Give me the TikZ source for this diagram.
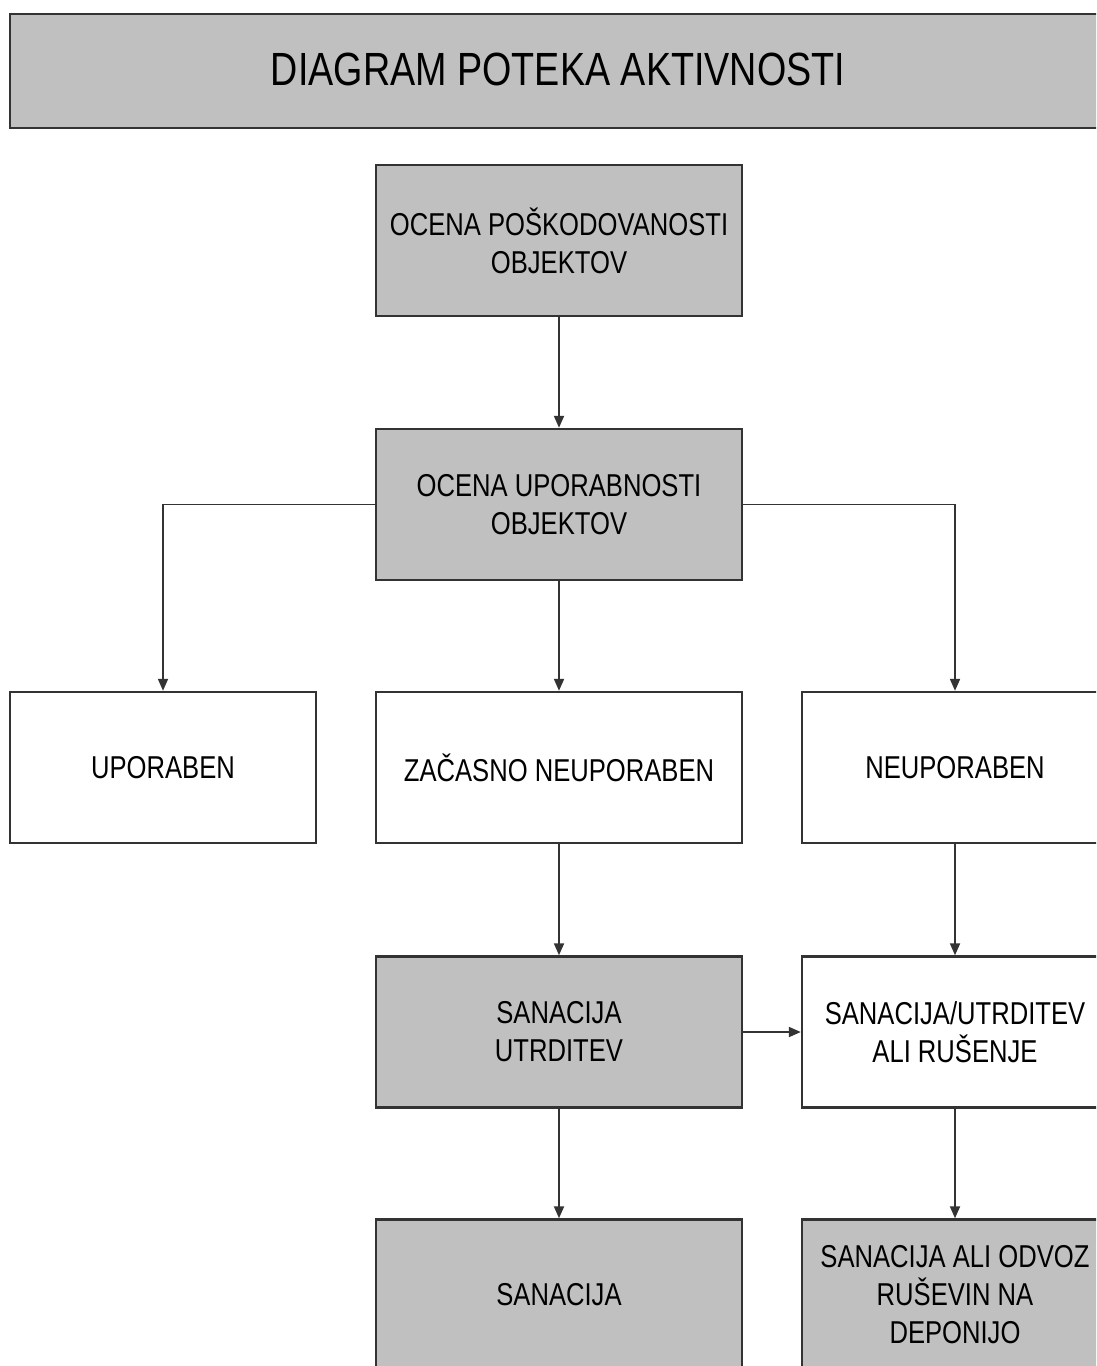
\documentclass[tikz,border=0pt]{standalone}
\usepackage{fontspec}
\setmainfont{Liberation Sans}[FakeStretch=0.81]
\usepackage{xcolor}
\usepackage{tikz}
\usetikzlibrary{arrows.meta}
\definecolor{boxgray}{HTML}{C0C0C0}
\definecolor{linegray}{HTML}{333333}
\tikzset{box/.style={draw=linegray, line width=1.4pt, align=center, minimum height=3.02cm,
                     font=\fontsize{18}{21.6}\selectfont, inner sep=0pt},
         wide/.style={box, minimum width=7.32cm},
         narrow/.style={box, minimum width=6.12cm},
         grey/.style={fill=boxgray},
         every edge/.style={draw=linegray, line width=1.1pt, -{Triangle[length=2.4mm,width=2mm]}}}

\begin{document}
\begin{tikzpicture}[x=0.02cm, y=-0.02cm]       % flow of activities
    \path[use as bounding box] (0,0) rectangle (1096,1366);
    \clip (0,0) rectangle (1096,1366);

    \node[draw=linegray, line width=1.4pt, fill=boxgray, minimum width=21.92cm, minimum height=2.28cm,
          font=\fontsize{26.5}{30}\selectfont] at (558,71) (title) {\raisebox{1.5pt}{DIAGRAM POTEKA AKTIVNOSTI}};

    \node[wide,grey] at (559,240.5) (skoda) {OCENA POŠKODOVANOSTI\\OBJEKTOV};
    \node[wide,grey] at (559,504.5) (upor) {OCENA UPORABNOSTI\\OBJEKTOV};

    \node[narrow] at (163,767.5) (uporaben) {UPORABEN};
    \node[wide] at (559,767.5) (zacasno) {ZAČASNO NEUPORABEN};
    \node[narrow] at (955,767.5) (neupor) {NEUPORABEN};

    \node[wide,grey] at (559,1032) (sanutr) {SANACIJA\\UTRDITEV};
    \node[narrow] at (955,1032) (rusenje) {SANACIJA/UTRDITEV\\ALI RUŠENJE};

    \node[wide,grey] at (559,1295) (sanacija) {SANACIJA};
    \node[narrow,grey] at (955,1295) (odvoz) {SANACIJA ALI ODVOZ\\RUŠEVIN NA\\DEPONIJO};

    \draw (skoda) edge (upor);
    \draw (upor.west) edge[to path={-| (\tikztotarget)}] (uporaben.north);
    \draw (upor) edge (zacasno);
    \draw (upor.east) edge[to path={-| (\tikztotarget)}] (neupor.north);

    \draw (zacasno) edge (sanutr);
    \draw (neupor) edge (rusenje);
    \draw (sanutr) edge (rusenje);

    \draw (sanutr) edge (sanacija);
    \draw (rusenje) edge (odvoz);
\end{tikzpicture}
\end{document}
